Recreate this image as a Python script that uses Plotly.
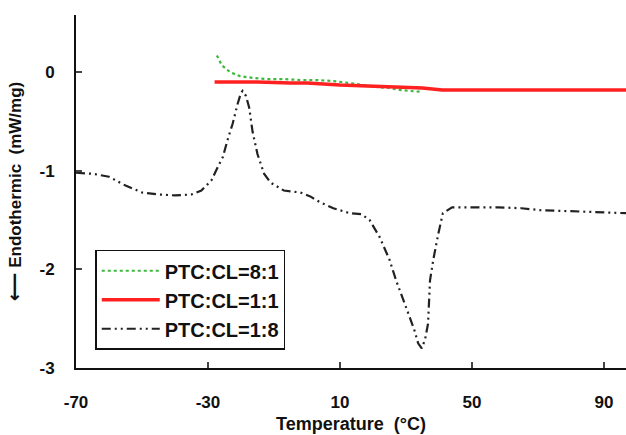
import plotly.graph_objects as go

# PTC:CL = 8:1
t_81 = [-27.3, -25.8, -23.3, -20.3, -16, -12, -7, -2, 3.4, 8, 13, 17, 21, 25, 28, 31, 35]
y_81 = [0.17, 0.07, 0.0, -0.04, -0.06, -0.07, -0.07, -0.08, -0.08, -0.09, -0.11, -0.13, -0.15, -0.16, -0.18, -0.19, -0.20]

# PTC:CL = 1:1
t_11 = [-28, -15, -5, 0, 10, 20, 30, 35, 41, 50, 70, 96.7]
y_11 = [-0.10, -0.10, -0.11, -0.11, -0.13, -0.14, -0.15, -0.16, -0.18, -0.18, -0.18, -0.18]

# PTC:CL = 1:8
t_18 = [-70, -65, -60, -55, -50, -45, -40, -35, -32, -29, -27, -25.5, -24, -22.5, -21, -20, -19.5,
        -18.5, -17.5, -16.5, -15, -13, -11, -7, -2, 1, 4, 8, 13, 16.5, 19, 22, 25, 27, 30, 32.5,
        33.7, 34.8, 35.8, 36.7, 37.3, 38.3, 39.8, 41.2, 44, 50, 58, 65, 71, 80, 87, 96.7]
y_18 = [-1.02, -1.03, -1.06, -1.15, -1.22, -1.24, -1.25, -1.24, -1.20, -1.10, -0.96, -0.86, -0.68, -0.52, -0.32, -0.21, -0.19,
        -0.24, -0.36, -0.60, -0.83, -1.03, -1.12, -1.20, -1.22, -1.26, -1.32, -1.38, -1.43, -1.44, -1.50, -1.67, -1.90, -2.11, -2.38, -2.61,
        -2.75, -2.80, -2.71, -2.55, -2.11, -1.90, -1.64, -1.43, -1.37, -1.37, -1.37, -1.38, -1.40, -1.41, -1.42, -1.43]

x_ticks = [-70, -30, 10, 50, 90]
x_labels = ["-70", "-30", "10", "50", "90"]
y_ticks = [0, -1, -2, -3]
y_labels = ["0", "-1", "-2", "-3"]

bold = "Liberation Sans, Arial, sans-serif"

fig = go.Figure()
fig.add_trace(go.Scatter(x=t_81, y=y_81, mode="lines", name="PTC:CL=8:1", legendgroup="a",
                         line=dict(color="#3cb83c", width=2.2, dash="dot")))
fig.add_trace(go.Scatter(x=t_11, y=y_11, mode="lines", name="PTC:CL=1:1", legendgroup="b",
                         line=dict(color="#ff2020", width=3.5)))
fig.add_trace(go.Scatter(x=t_18, y=y_18, mode="lines", name="PTC:CL=1:8", legendgroup="c",
                         line=dict(color="#222222", width=2.2, dash="9px,4px,2px,4px,2px,4px")))

fig.update_layout(
    width=626, height=435,
    margin=dict(l=76, r=0, t=15, b=67),
    paper_bgcolor="white", plot_bgcolor="white",
    font=dict(family=bold, color="#111111", size=16, weight="bold"),
    showlegend=True,
    legend=dict(x=0.035, y=0.335, xanchor="left", yanchor="top",
                bordercolor="#111111", borderwidth=1.5, bgcolor="white",
                font=dict(size=20, family=bold, weight="bold"),
                itemwidth=58, tracegroupgap=7, traceorder="normal"),
)
fig.update_xaxes(range=[-70, 96.7], tickvals=x_ticks, ticktext=x_labels, ticks="inside", ticklen=6, tickwidth=1.5,
                 showline=True, linecolor="#111111", linewidth=2, showgrid=False, zeroline=False,
                 ticklabelstandoff=18, tickfont=dict(size=17, weight="bold"),
                 title=dict(text="Temperature  (°C)", standoff=6, font=dict(size=18, weight="bold")))
fig.update_yaxes(range=[-3, 0.58], tickvals=y_ticks, ticktext=y_labels,
                 ticks="inside", ticklen=6, tickwidth=1.5,
                 showline=True, linecolor="#111111", linewidth=2, showgrid=False, zeroline=False,
                 ticklabelstandoff=16, tickfont=dict(size=17, weight="bold"),
                 title=dict(text="<span style='font-family:DejaVu Sans;font-size:20px;font-weight:bold'>⟵</span> Endothermic  (mW/mg)",
                            standoff=14, font=dict(size=17, weight="bold")))

fig.write_html("out.html")
